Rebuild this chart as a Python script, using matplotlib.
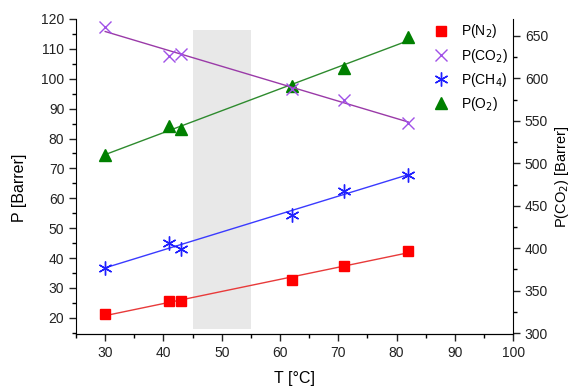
import numpy as np
import matplotlib
matplotlib.use("Agg")
import matplotlib.pyplot as plt
from matplotlib.ticker import MultipleLocator

plt.rcParams['font.family'] = ['Liberation Sans', 'DejaVu Sans']

##### data #####
T = [30, 41, 43, 62, 71, 82]
p_n2 = [21.3, 25.5, 25.5, 32.5, 37.4, 42.5]
p_ch4 = [36.6, 45.2, 43.2, 54.4, 62.4, 67.9]
p_o2 = [74.6, 84.1, 83.3, 97.6, 103.5, 113.9]
p_co2 = [660, 626, 629, 588, 575, 548]   # right axis

band = (45, 55)

fig = plt.figure(figsize=(5.72, 3.87), dpi=100)
ax = fig.add_axes([0.133, 0.137, 0.764, 0.814])
ax2 = ax.twinx()

ax.axvspan(band[0], band[1], ymin=0.015, ymax=0.965, color="#e8e8e8", lw=0, zorder=0)

tt = np.array([T[0], T[-1]])

def fitline(a, y, col):
    k, b = np.polyfit(T, y, 1)
    a.plot(tt, k*tt + b, color=col, lw=1.0, zorder=2)

fitline(ax, p_n2, "#e83a3a")
fitline(ax, p_ch4, "#3a3aff")
fitline(ax, p_o2, "#2e8b2e")
fitline(ax2, p_co2, "#9a3aa8")

h1, = ax.plot(T, p_n2, ls="none", marker="s", ms=7, color="#ff0000", label="P(N$_2$)", zorder=3)
h3, = ax.plot(T, p_ch4, ls="none", marker=(6, 2, 0), ms=10, mew=1.0, color="#2020ff", label="P(CH$_4$)", zorder=3)
h4, = ax.plot(T, p_o2, ls="none", marker="^", ms=9, color="#008000", label="P(O$_2$)", zorder=3)
h2, = ax2.plot(T, p_co2, ls="none", marker="x", ms=9, mew=1.0, color="#a050e8", label="P(CO$_2$)", zorder=3)

ax.set_xlim(25, 100)
ax.set_ylim(14.6, 120)
ax2.set_ylim(299, 670)

ax.set_xticks(np.arange(30, 101, 10))
ax.xaxis.set_minor_locator(MultipleLocator(5))
ax.set_yticks(np.arange(20, 121, 10))
ax.yaxis.set_minor_locator(MultipleLocator(5))
ax2.set_yticks(np.arange(300, 651, 50))
ax2.yaxis.set_minor_locator(MultipleLocator(25))

for a in (ax, ax2):
    a.spines['top'].set_visible(False)
    a.tick_params(which="major", direction="out", length=5, width=1, labelsize=10, colors="#222222")
    a.tick_params(which="minor", direction="out", length=3, width=1)
ax.spines['right'].set_visible(False)
ax2.spines['left'].set_visible(False)

ax.set_xlabel("T [°C]", fontsize=11.5, labelpad=8)
ax.set_ylabel("P [Barrer]", fontsize=11.5)
ax.yaxis.set_label_coords(-0.112, 0.465)
ax2.set_ylabel("P(CO$_2$) [Barrer]", fontsize=10.5)
ax2.yaxis.set_label_coords(1.092, 0.5)

fig.legend(handles=[h1, h2, h3, h4], loc="upper left", bbox_to_anchor=(0.745, 0.96),
           frameon=False, fontsize=10, handlelength=1.2, handletextpad=0.8,
           labelspacing=0.45, borderpad=0)

fig.savefig("out.png", dpi=100)
